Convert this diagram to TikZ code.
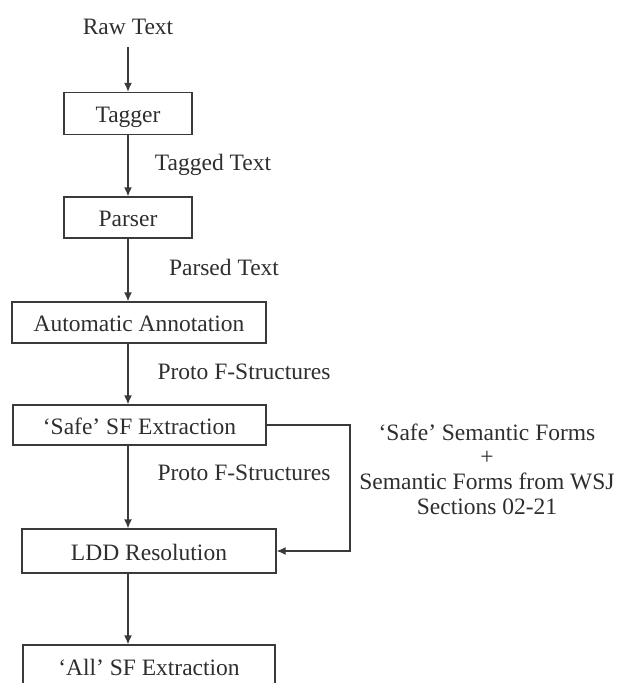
\documentclass[tikz,border=0pt]{standalone}
\usepackage{fontspec}
\setmainfont{Liberation Serif}
\usetikzlibrary{arrows.meta}
\definecolor{ink}{HTML}{2E2E2E}
\definecolor{rule}{HTML}{3A3A3A}
\tikzset{
  stage/.style={draw=rule, line width=1.3pt, rectangle, inner sep=0pt,
    text=ink, text height=22pt, text depth=4pt},
  flowlabel/.style={text=ink, inner sep=0pt, text height=22pt, text depth=4pt},
  flow/.style={draw=rule, line width=1.3pt, -{Latex[length=9pt,width=8pt]}},
}
\begin{document}
\begin{tikzpicture}[x=1pt, y=-1pt, font=\fontsize{23.5}{24.7}\selectfont]
  \useasboundingbox (0,0) rectangle (626,683);
  \clip (0,0) rectangle (626,683);

  % pipeline stages
  \node[flowlabel] (raw) at (128,25) {Raw Text};
  \node[stage, minimum width=128pt, minimum height=42pt] (tagger) at (128,113.5) {Tagger};
  \node[stage, minimum width=128pt, minimum height=41pt] (parser) at (128,217.5) {Parser};
  \node[stage, minimum width=254pt, minimum height=41pt] (auto) at (139,322.5) {Automatic Annotation};
  \node[stage, minimum width=253pt, minimum height=40pt] (safe) at (139.5,425) {`Safe' SF Extraction};
  \node[stage, minimum width=254pt, minimum height=44pt] (ldd) at (149,551) {LDD Resolution};
  \node[stage, minimum width=252pt, minimum height=43pt] (all) at (149,666.5) {`All' SF Extraction};

  % edge labels
  \node[flowlabel] (lab1) at (213,161.5) {Tagged Text};
  \node[flowlabel] (lab2) at (224,266) {Parsed Text};
  \node[flowlabel] (lab3) at (244,370) {Proto F-Structures};
  \node[flowlabel] (lab4) at (244,471) {Proto F-Structures};
  \node[text=ink, align=center, inner sep=0pt] (forms) at (487,469)
    {`Safe' Semantic Forms\\+\\Semantic Forms from WSJ\\Sections 02-21};

  % main flow, all on the vertical line through the tagger
  \draw[flow, shorten <=9pt] (raw.south) -- (tagger.north);
  \draw[flow] (tagger.south) -- (parser.north);
  \draw[flow] (parser.south) -- (parser.south |- auto.north);
  \draw[flow] (auto.south -| tagger) -- (safe.north -| tagger);
  \draw[flow] (safe.south -| tagger) -- (ldd.north -| tagger);
  \draw[flow] (ldd.south -| tagger) -- (all.north -| tagger);

  % side loop from the safe extraction back into LDD resolution
  \coordinate (loop) at (350,0);
  \draw[flow] (safe.east) -- (safe.east -| loop) -- (ldd.east -| loop) -- (ldd.east);
\end{tikzpicture}
\end{document}
